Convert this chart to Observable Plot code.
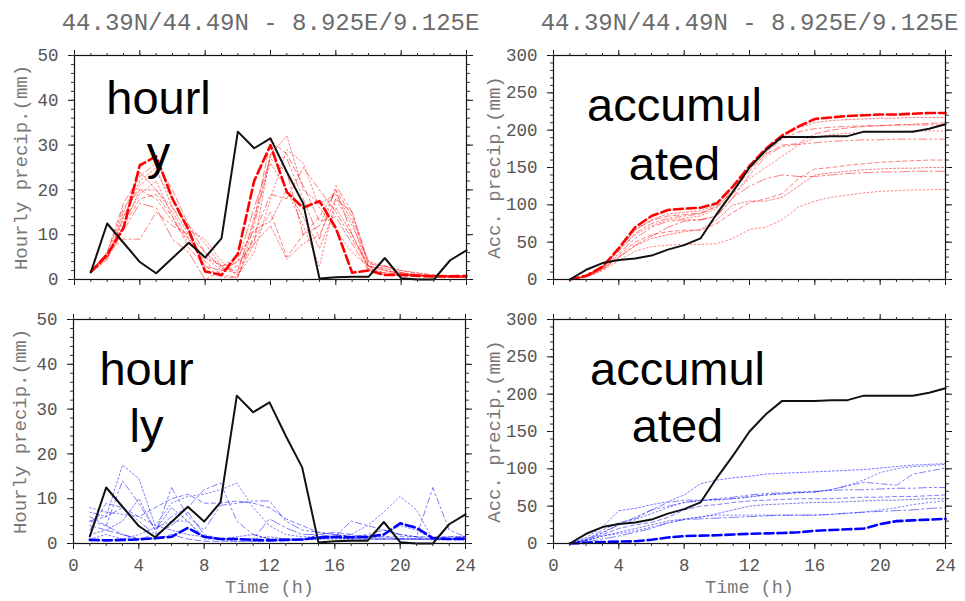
<!DOCTYPE html>
<html><head><meta charset="utf-8">
<script src="https://cdn.jsdelivr.net/npm/d3@7"></script>
<script src="https://cdn.jsdelivr.net/npm/@observablehq/plot@0.6"></script>
<style>
body{margin:0;background:#fff;}
#wrap{position:relative;width:965px;height:601px;overflow:hidden;background:#fff;}
#wrap > svg{position:absolute;}
</style></head><body><div id="wrap"></div>
<script>
// ---------------- data ----------------
const hours = [1,2,3,4,5,6,7,8,9,10,11,12,13,14,15,16,17,18,19,20,21,22,23,24];
const xTicks = [0,4,8,12,16,20,24];
const xMinor = [0,1,2,3,4,5,6,7,8,9,10,11,12,13,14,15,16,17,18,19,20,21,22,23,24];
const hourlyTicks = [0,10,20,30,40,50];
const hourlyMinor = [0,2,4,6,8,10,12,14,16,18,20,22,24,26,28,30,32,34,36,38,40,42,44,46,48,50];
const accTicks = [0,50,100,150,200,250,300];
const accMinor = [0,10,20,30,40,50,60,70,80,90,100,110,120,130,140,150,160,170,180,190,200,210,220,230,240,250,260,270,280,290,300];
const title = "44.39N/44.49N - 8.925E/9.125E";
const hourlyLabel = "Hourly precip.(mm)";
const accLabel = "Acc. precip.(mm)";
const timeLabel = "Time (h)";
const notes = ["hourl\ny", "accumul\nated", "hour\nly", "accumul\nated"];

// observed (black)
const obsHourly = [1.6,12.5,8.2,3.9,1.4,4.8,8.2,4.9,9.2,33,29.3,31.5,24,17,0.2,0.5,0.6,0.6,4.8,0.3,0,0,4.3,6.5];
const obsAcc = [0,13,22,26,28,32,40,46,55,88,118,150,173,191,191,191,192,192,198,198,198,198,202,208];

// red ensemble, hourly
const redHourlyBold = [1.7,5.5,11.5,25.5,27.5,18,11,1.8,1.0,5.7,22,30,19.5,16,17.5,11.5,1.5,2,1,1,0.8,0.7,0.7,0.8];
const redHourly = [
  [1.5,4.5,14,22,25,16,12,8,3,1,8,28,32,20,17,19,13,2,3,1.5,1,0.8,0.6,0.6],
  [2,6,9,9,15,12,10,3,0.5,0.5,10,19,18,25,20,15,9,3,1,1,0.9,0.7,0.5,0.5],
  [1.5,5,13,19,22,14,8,5,2,1.5,14,26,20,12,3,18,12,4,2,1.2,1,0.8,0.6,0.5],
  [1.8,6,16,20,18,13,9,4,1,0.5,12,28,27,18,9,21,15,3,2,1.5,1,0.7,0.6,0.5],
  [1.6,5,12,18,19,14,7,3,2,3,9,15,5,10,14,20,14,3.5,3,2,1.3,1,0.8,0.7],
  [2,5.5,15,24,20,16,10,6,3,5,11,13,20,14,7,16,10,2.5,1.5,1,0.8,0.6,0.5,0.4],
  [1.5,4.5,11,17,16,9,6,0,2,4,16,27,24,10,12,20,10,3,2.5,1.5,1,0.8,0.7,0.6],
  [1.7,5,14,21,24,18,11,9,4,1,6,18,29,26,16,11,6,3,2,1.2,1,0.9,0.8,0.7],
  [1.5,6,17,23,26,20,12,6,2.5,2,13,31,28,21,13,14,8,2,1.5,1.2,1,0.8,0.6,0.6],
  [2,5,12,20,20,15,9,5,3,4,8,12,4.5,8,10,18,15,4,3,2,1.5,1,0.9,0.8]
];

// red ensemble, accumulated
const redAccBold = [0,5,17,42,70,85,93,95,96,102,125,152,175,193,205,215,217,219,220,221,221,222,223,223];
const redAcc = [
  [0,5,17,40,66,80,88,90,92,100,124,150,173,190,203,210,213,214,215,216,216,217,217,217],
  [0,4,16,38,62,75,82,85,88,97,120,148,170,188,198,202,204,205,206,206,207,207,207,207],
  [0,5,18,39,60,72,80,82,85,95,115,135,150,165,180,190,194,196,197,198,198,199,199,199],
  [0,4,15,35,55,70,78,80,80,85,110,140,165,178,181,183,185,186,187,187,188,188,188,188],
  [0,4,14,33,50,60,64,66,66,75,90,103,108,115,135,148,150,153,155,157,158,159,160,160],
  [0,4,14,30,45,55,60,64,67,80,100,105,105,110,125,140,143,145,147,148,149,149,150,150],
  [0,3,13,30,46,58,70,78,80,85,110,125,135,140,138,138,140,142,143,144,144,145,145,145],
  [0,3,12,25,38,44,46,47,47,48,55,67,70,80,97,105,110,113,116,118,119,120,120,121],
  [0,5,17,41,67,79,85,87,89,98,118,145,168,180,182,195,200,203,205,206,207,208,209,210]
];

// blue ensemble, hourly
const blueHourlyBold = [0.8,0.7,0.8,0.9,1.2,1.5,3.5,1.5,1,1,0.8,0.7,0.8,0.9,1.3,1.5,1.4,1.5,2,4.5,3.5,1.2,1,1.1];
const blueHourly = [
  [7,6,17.5,14.5,4,3,2,1.5,1,1,1,1.5,1,0.8,1,1.2,1,1.5,2,4,3,1,1,1],
  [5,4,14,9,3,6,8,12,13.5,5,2,1,1,0.8,1.2,1.5,5,4,3,2,1.5,12.5,3,1.5],
  [8,7,6.5,6,4,9,10.5,11,12,13.5,8,4,2,1.5,1.5,1.5,2,4,7,10.5,7.5,1,1,1],
  [5,6,8,5,2,12.5,6,3,8.5,9,9.5,9.5,5,3,2.5,2,1.5,2,3,2,1.5,1,1,1],
  [3,9,8,6,8,10,11,9,9,9.5,9,8,5.5,4,2.5,2,1.5,1.5,1.5,1.5,1.5,1.5,1.5,1.5],
  [2,3,5,10,3,8,5,1,1,1.5,2,1,1,1,1,1,1,1,1,1,1,1,1.5,1.5],
  [6,4,2,1,2,4,7,2,1,1,1,5.5,3.5,2,2,1.5,1,1,1,1,1,1,1,1],
  [1,2,1,2,3.5,5,5,1.5,0.8,0.5,0.5,0.6,0.8,1,1.2,1.2,1.3,1.3,1.5,1,1,0.8,0.8,0.7],
  [4,3,2,1,1,2,1,0.5,0.5,0.5,0.5,0.6,0.7,0.7,2,2.5,2,1,1,1,1,1,1,1.5]
];

// blue ensemble, accumulated
const blueAccBold = [0,1,2,2.5,3,5,8,10,10.5,11,12,13,13.5,14,15,17,18,19,20,26,30,31,32,33];
const blueAcc = [
  [0,8,22,44,47,52,56,65,80,85,88,90,93,94,95,96,97,98,99,101,103,105,106,107],
  [0,5,18,28,33,45,55,58,58,59,60,63,65,67,68,69,72,77,82,80,78,93,97,101],
  [0,6,15,25,32,40,48,55,58,58,60,62,65,66,68,69,72,78,85,95,100,103,104,106],
  [0,5,14,25,35,45,50,55,57,60,62,65,67,68,69,70,71,72,72,73,74,74,75,75],
  [0,4,12,20,25,28,35,45,50,52,55,57,58,59,60,60,60,61,62,62,63,63,64,65],
  [0,3,10,15,20,25,30,33,35,40,45,50,52,53,54,55,55,56,57,58,58,59,60,60],
  [0,2,6,10,15,20,28,32,33,34,35,36,37,38,38,38,39,41,42,43,44,45,47,48],
  [0,4,10,13,17,22,27,32,36,38,38,38,38,38,38,38,39,40,42,45,48,52,55,57]
];

// ---------------- styles ----------------
const dashes = ["2,2","6,3,2,3","1.5,2.5","8,3,2,3,2,3","4,3","2,2","10,3,2,3","1.5,2.5","6,3","3,2,1,2"];
const mono = "Liberation Mono, DejaVu Sans Mono, monospace";
const sans = "Liberation Sans, Arial, sans-serif";

const rows = arr => hours.map((h, i) => ({h, v: arr[i]}));

function seriesMarks(members, bold, obs, color) {
  const m = members.map((arr, k) => Plot.line(rows(arr), {
    x: "h", y: "v", stroke: color, strokeWidth: 1, strokeOpacity: 0.5,
    strokeDasharray: dashes[k % dashes.length]
  }));
  m.push(Plot.line(rows(bold), {x: "h", y: "v", stroke: color, strokeWidth: 2.6, strokeDasharray: "9,4"}));
  m.push(Plot.line(rows(obs), {x: "h", y: "v", stroke: "#111", strokeWidth: 2}));
  return m;
}

function panel(o) {
  const showX = o.showX;
  const marks = [
    ...seriesMarks(o.members, o.bold, o.obs, o.color),
    Plot.frame({stroke: "#111", strokeWidth: 1.2}),
    Plot.axisY(o.yMajor, {anchor: "left", tickSize: 6, fill: "none", label: null, stroke: "#111"}),
    Plot.axisY(o.yMinor, {anchor: "left", tickSize: 3, fill: "none", label: null, stroke: "#333"}),
    Plot.axisY(o.yMajor, {anchor: "right", tickSize: 6, fill: "none", label: null, stroke: "#111"}),
    Plot.axisY(o.yMinor, {anchor: "right", tickSize: 3, fill: "none", label: null, stroke: "#333"}),
    Plot.axisX(xTicks, {anchor: "bottom", tickSize: 6, fill: "none", label: null, stroke: "#111"}),
    Plot.axisX(xMinor, {anchor: "bottom", tickSize: 3, fill: "none", label: null, stroke: "#333"}),
    Plot.axisX(xTicks, {anchor: "top", tickSize: 6, fill: "none", label: null, stroke: "#111"}),
    Plot.axisX(xMinor, {anchor: "top", tickSize: 3, fill: "none", label: null, stroke: "#333"}),
    Plot.axisY(o.yMajor, {anchor: "left", tickSize: 0, tickPadding: 16, label: null, fill: "#555", fontSize: 17.5, fontFamily: mono}),
    Plot.text([o.yLabel], {frameAnchor: "left", dx: -o.labelDx, rotate: -90, textAnchor: "middle", lineAnchor: "middle",
      fontSize: 19, fill: "#777", fontFamily: mono}),
    Plot.text(o.title ? [title] : [], {frameAnchor: "top", dy: -33, lineAnchor: "middle", fontSize: 24, fill: "#6b6b6b", fontFamily: mono}),
    Plot.text([o.note], {frameAnchor: "top-left", dx: o.noteDx, dy: o.noteDy, textAnchor: "middle", lineAnchor: "top",
      lineHeight: o.noteLH, fontSize: 47, fill: "#000", fontFamily: sans})
  ];
  if (showX) {
    marks.push(Plot.axisX(xTicks, {anchor: "bottom", tickSize: 0, tickPadding: 15, label: null, fill: "#555", fontSize: 17.5, fontFamily: mono}));
    marks.push(Plot.text([timeLabel], {frameAnchor: "bottom", dy: 44, lineAnchor: "middle", fontSize: 18.5, fill: "#777", fontFamily: mono}));
  }
  const svg = Plot.plot({
    width: o.width, height: o.height,
    marginLeft: 74, marginRight: o.width - 74 - 392, marginTop: 55, marginBottom: o.height - 55 - 224,
    x: {domain: [0, 24]},
    y: {domain: o.yDomain},
    style: {background: "transparent", overflow: "visible"},
    marks
  });
  svg.style.left = o.left + "px";
  svg.style.top = o.top + "px";
  document.getElementById("wrap").appendChild(svg);
}

panel({left: 0, top: 0, width: 480, height: 300, title: true, showX: false,
  members: redHourly, bold: redHourlyBold, obs: obsHourly, color: "#ff0000",
  yDomain: [0, 50], yMajor: hourlyTicks, yMinor: hourlyMinor, yLabel: hourlyLabel, labelDx: 54,
  note: notes[0], noteDx: 84, noteDy: 19, noteLH: 1.17});
panel({left: 479, top: 0, width: 486, height: 300, title: true, showX: false,
  members: redAcc, bold: redAccBold, obs: obsAcc, color: "#ff0000",
  yDomain: [0, 300], yMajor: accTicks, yMinor: accMinor, yLabel: accLabel, labelDx: 60,
  note: notes[1], noteDx: 121, noteDy: 23, noteLH: 1.26});
panel({left: -1, top: 264, width: 480, height: 337, title: false, showX: true,
  members: blueHourly, bold: blueHourlyBold, obs: obsHourly, color: "#0000ff",
  yDomain: [0, 50], yMajor: hourlyTicks, yMinor: hourlyMinor, yLabel: hourlyLabel, labelDx: 54,
  note: notes[2], noteDx: 73, noteDy: 25, noteLH: 1.21});
panel({left: 479, top: 264, width: 486, height: 337, title: false, showX: true,
  members: blueAcc, bold: blueAccBold, obs: obsAcc, color: "#0000ff",
  yDomain: [0, 300], yMajor: accTicks, yMinor: accMinor, yLabel: accLabel, labelDx: 60,
  note: notes[3], noteDx: 124, noteDy: 25, noteLH: 1.21});
</script></body></html>
